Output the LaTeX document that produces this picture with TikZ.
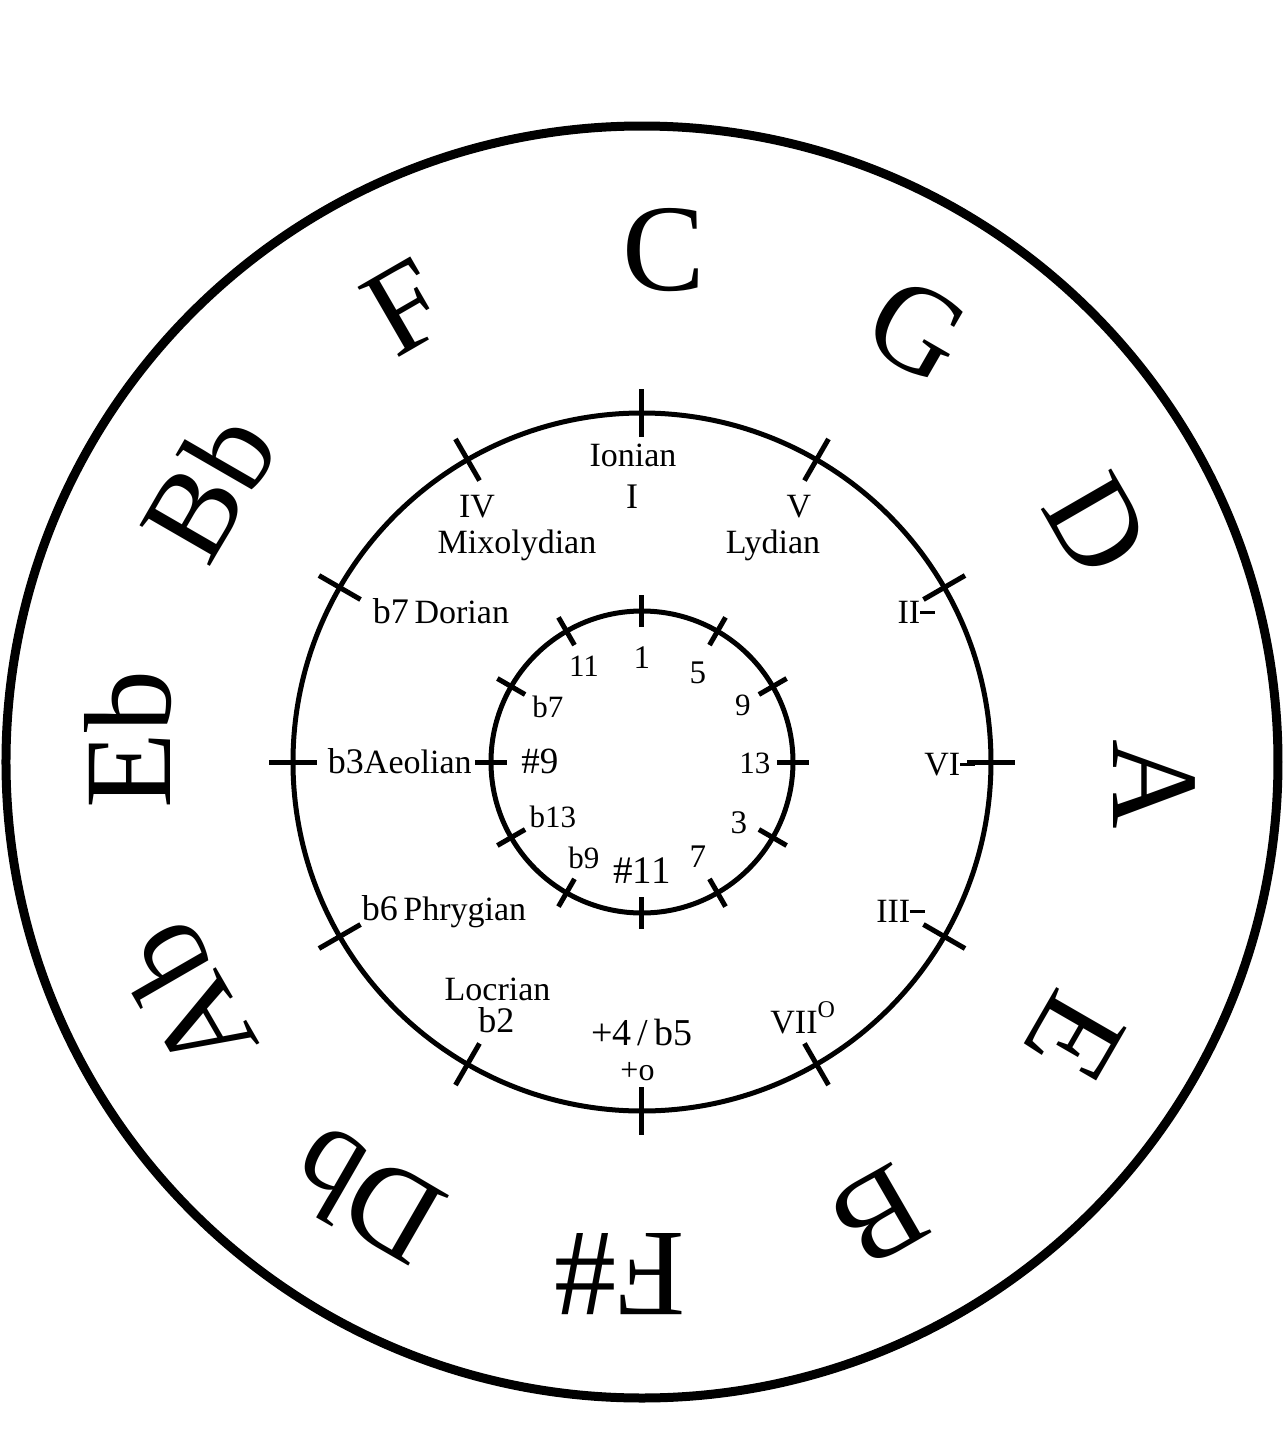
\documentclass[tikz,border=0pt]{standalone}
\usepackage{fontspec}
\setmainfont{Liberation Serif}
\newcommand\minusmark{\rule[0.26em]{0.42em}{0.1em}}
\begin{document}
\begin{tikzpicture}[x=0.5pt,y=0.5pt,
  keyl/.style={font=\fontsize{62}{62}\selectfont, inner sep=0pt, anchor=base},
  model/.style={font=\fontsize{17}{17}\selectfont, inner sep=0pt, anchor=base},
  degl/.style={font=\fontsize{18}{18}\selectfont, inner sep=0pt, anchor=base},
  intl/.style={font=\fontsize{15.5}{15.5}\selectfont, inner sep=0pt, anchor=base},
  ring/.style={line width=2.5pt},
  tickl/.style={line width=2.5pt}]
\useasboundingbox (-642,-686) rectangle (642,762);
% circles
\draw[line width=4.5pt] (0,0) circle[radius=636];
\draw[ring] (0,0) circle[radius=349];
\draw[ring] (0,0) circle[radius=151];
% ticks
\foreach \a in {0,30,...,330} {
  \draw[tickl] (\a:325) -- (\a:373);
  \draw[tickl] (\a:135) -- (\a:167);
}
% keys
\foreach \a/\t/\n in {90/C/kC, 60/G/kG, 30/D/kD, 0/A/kA, -30/E/kE, -60/B/kB,
  -90/F\#/kFs, -120/Db/kDb, -150/Ab/kAb, 180/Eb/kEb, 150/Bb/kBb, 120/F/kF}
  \node[keyl, rotate=\a-90] (\n) at (\a-2.7:472) {\t};
% middle ring labels
\node[model] (ionian) at (-9,296) {Ionian};
\node[degl] (dI) at (-10,254) {I};
\node[model] (dIV) at (-165,245) {IV};
\node[model] (mixo) at (-125,209) {Mixolydian};
\node[model] (dV) at (157,245) {V};
\node[model] (lyd) at (131,209) {Lydian};
\node[model] (dor) at (-201,139) {{\fontsize{18}{18}\selectfont b7}\,Dorian};
\node[model, anchor=base east] (aeo) at (-170,-11) {{\fontsize{18}{18}\selectfont b3}Aeolian};
\node[model] (phr) at (-198,-158) {{\fontsize{18}{18}\selectfont b6}\,Phrygian};
\node[model] (loc) at (-144.5,-238) {Locrian};
\node[degl] (db2) at (-145.5,-270) {b2};
\node[font=\fontsize{19}{19}\selectfont, inner sep=0pt, anchor=base] (tri) at (0,-283) {+4\,/\,b5};
\node[font=\fontsize{16}{16}\selectfont, inner sep=0pt, anchor=base] (aug) at (-4.5,-318) {+o};
\node[model, anchor=base east] (dII) at (293,139) {II\minusmark};
\node[model, anchor=base east] (dVI) at (333,-13) {VI\minusmark};
\node[model, anchor=base east] (dIII) at (283,-160) {III\minusmark};
\node[model, anchor=base west] (dVII) at (128,-271) {VII\raisebox{0.45em}{\fontsize{12}{12}\selectfont O}};
% inner ring labels
\node[intl, font=\fontsize{16.5}{16.5}\selectfont] (i1) at (0,94) {1};
\node[intl] (i11) at (-58,86) {11};
\node[intl, font=\fontsize{16.5}{16.5}\selectfont] (i5) at (56,79) {5};
\node[intl] (i9) at (101,47) {9};
\node[intl] (ib7) at (-94,45) {b7};
\node[intl, font=\fontsize{18.5}{18.5}\selectfont] (is9) at (-102,-11) {\#9};
\node[intl] (i13) at (113,-11) {13};
\node[intl] (ib13) at (-89,-65) {b13};
\node[intl, font=\fontsize{16.5}{16.5}\selectfont] (i3) at (97,-71) {3};
\node[intl] (ib9) at (-58,-106) {b9};
\node[font=\fontsize{19.5}{19.5}\selectfont, inner sep=0pt, anchor=base] (is11) at (0,-121) {\#11};
\node[intl, font=\fontsize{16.5}{16.5}\selectfont] (i7) at (56,-105) {7};
\end{tikzpicture}
\end{document}
